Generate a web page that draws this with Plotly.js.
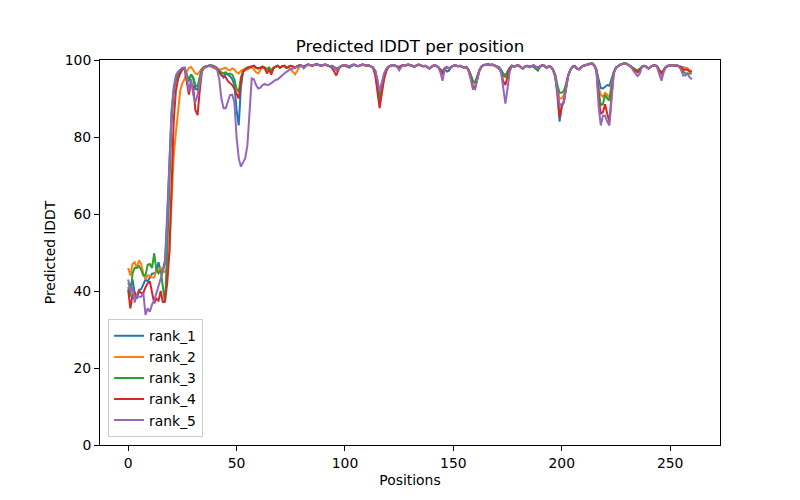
<!DOCTYPE html>
<html>
<head>
<meta charset="utf-8">
<script src="https://cdn.plot.ly/plotly-3.0.1.min.js"></script>
<style>html,body{margin:0;padding:0;background:#fff;}#chart{width:800px;height:500px;}</style>
</head>
<body>
<div id="chart"></div>
<script>
const seriesNames = ["rank_1", "rank_2", "rank_3", "rank_4", "rank_5"];
const seriesColors = ["#1f77b4", "#ff7f0e", "#2ca02c", "#d62728", "#9467bd"];
const xTickVals = [0, 50, 100, 150, 200, 250];
const yTickVals = [0, 20, 40, 60, 80, 100];

const rank1 = [
42, 41, 43, 39.5, 38, 40.3, 40.5, 42, 43, 42.5,
43.5, 44.5, 44.6, 45, 47.5, 45, 45.5, 48, 60, 75,
86, 92, 95, 96.2, 97.2, 97.8, 98, 96.2, 94.5, 96.3,
95.2, 92.5, 92.3, 95.3, 97.6, 98.2, 98.4, 98.5, 98.6, 98.5,
98.3, 97.8, 97, 96.2, 95.5, 96.5, 96.2, 95.8, 95, 93.5,
87, 83, 93, 97, 97.5, 98, 98, 98.3, 98.5, 98,
97.8, 98, 98.3, 98, 97.6, 98, 97, 98, 98.3, 98.5,
98, 98.4, 98.5, 98, 98.3, 98.5, 98.3, 98, 98.4, 98.6,
98.5, 98.2, 98.6, 98.8, 98.7, 98.5, 98.8, 98.9, 98.7, 98.5,
98.7, 98.8, 98.6, 98.4, 98.5, 98.2, 97.8, 98, 98.4, 98.6,
98.5, 98.2, 98, 98.4, 98.7, 98.6, 98.4, 98.6, 98.8, 98.7,
98.5, 98.6, 98.4, 98, 97.2, 94.5, 91, 94, 96, 97.5,
98.2, 98.5, 98.7, 98.6, 98.4, 98.2, 98.5, 98.7, 98.6, 98.8,
98.7, 98.5, 98.3, 98.6, 98.8, 98.6, 98.4, 98.5, 98.2, 97.8,
98.3, 98.6, 98.5, 98.2, 97.6, 97, 97.8, 97, 97.2, 98.2,
98.5, 98.6, 98.4, 98.5, 98.3, 98, 98.2, 97.5, 96, 94.5,
94, 95.8, 97.3, 98.3, 98.7, 98.8, 98.9, 98.7, 98.8, 98.6,
98.3, 98.2, 97.5, 96.5, 96, 97, 98, 98.5, 98.3, 98.5,
98.6, 98.2, 97.8, 98.3, 98.5, 98.2, 98.4, 98.6, 98.3, 98,
98.4, 98.6, 98.5, 98, 98.4, 98.2, 97.5, 96, 92, 84,
88, 89, 93, 96, 97.5, 98.3, 98.4, 97.8, 97.6, 98.2,
98.5, 98.7, 98.8, 99, 99.2, 98.6, 97.5, 95, 92.7, 92.6,
93, 93.5, 93.3, 95, 97, 98, 98.5, 98.8, 99, 99.2,
99, 98.6, 98.3, 97.8, 97.5, 97.2, 97.6, 98.3, 98.5, 98.3,
97.8, 98.3, 98.6, 98.7, 98.3, 97.4, 96.8, 97.3, 98.2, 98.5,
98.6, 98.7, 98.5, 98.6, 98.4, 98.2, 98, 97.8, 97.8, 97.3,
97
];

const rank2 = [
46, 44, 47, 47.5, 46, 48, 47, 44.5, 43, 44,
44, 43.5, 43.5, 45.5, 45.5, 46, 45, 45, 46, 50,
63, 75, 81, 87, 92, 94, 95, 97, 98, 98.2,
97.5, 96.5, 96.3, 97.2, 97.8, 98, 98.3, 98.5, 98.3, 98.1,
97.8, 98, 97.5, 97.6, 97.8, 98, 97.5, 97.3, 97.8, 97.5,
96.8, 96.5, 97.2, 97.5, 97.8, 97.5, 97.8, 98.2, 97.5, 96.8,
96.5, 97.5, 98.2, 98, 97.8, 98, 97.5, 98, 98.3, 98.4,
98, 98.3, 98.5, 98.2, 98, 97.5, 96.8, 96.3, 97.2, 98.2,
98.4, 98.2, 98.5, 98.7, 98.6, 98.4, 98.7, 98.8, 98.7, 98.5,
98.6, 98.7, 98.5, 98.3, 98.4, 98.2, 97.6, 98, 98.3, 98.5,
98.6, 98.4, 98.3, 98.6, 98.8, 98.6, 98.4, 98.5, 98.7, 98.6,
98.4, 98.5, 98.3, 97.8, 96.5, 92.5, 88.3, 91.5, 95, 97.2,
98.1, 98.4, 98.6, 98.5, 98.3, 98, 98.4, 98.6, 98.5, 98.7,
98.6, 98.4, 98.2, 98.5, 98.7, 98.5, 98.3, 98.4, 98.1, 97.7,
98.2, 98.5, 98.4, 98.1, 97.5, 97.2, 97.8, 98.1, 97.8, 98.2,
98.4, 98.5, 98.3, 98.4, 98.2, 97.9, 98.1, 97.3, 95.5, 93.5,
93, 95.3, 97.2, 98.2, 98.6, 98.7, 98.8, 98.6, 98.7, 98.5,
98.2, 97.8, 97, 95.8, 95.5, 96.3, 97.6, 98.4, 98.2, 98.4,
98.5, 98.1, 97.7, 98.2, 98.4, 98.1, 98.3, 98.5, 98.2, 97.8,
98.3, 98.5, 98.4, 97.9, 98.3, 98.1, 97.4, 95.5, 92.5, 90,
90, 91, 93.5, 96, 97.4, 98.2, 98.3, 97.7, 97.5, 98.1,
98.4, 98.6, 98.7, 98.9, 99.1, 98.5, 97.3, 93, 91, 90.5,
91.5, 91, 90, 94, 96.8, 97.8, 98.4, 98.7, 98.9, 99.1,
98.9, 98.5, 98.2, 97.6, 97.3, 96.8, 97.3, 98.2, 98.4, 98.2,
97.7, 98.2, 98.5, 98.6, 98.2, 96.5, 95.8, 97, 98.1, 98.4,
98.5, 98.6, 98.4, 98.5, 98.3, 98.1, 98, 98, 97.8, 97.2,
97
];

const rank3 = [
41, 38.5, 44.6, 46, 46, 46.5, 45.5, 44, 44, 46.8,
47, 46, 49.8, 45.5, 44.6, 45.5, 41, 37, 50, 68,
84, 92, 95, 96.3, 97.2, 97.8, 98, 96.2, 94.5, 96.2,
95.5, 93.5, 93, 95.5, 97.6, 98.2, 98.4, 98.5, 98.6, 98.5,
98.3, 97.8, 97.2, 96.8, 96.5, 96.8, 96.3, 96.5, 96.2, 95,
92.5, 91.7, 95.5, 97, 97.5, 98, 98.1, 98.3, 98.5, 98,
97.8, 98, 98.3, 98, 97.5, 98, 97, 98, 98.3, 98.5,
98, 98.4, 98.5, 98, 98.3, 98.5, 98.3, 98, 98.4, 98.6,
98.5, 98.2, 98.6, 98.8, 98.7, 98.5, 98.8, 98.9, 98.7, 98.5,
98.7, 98.8, 98.6, 98.4, 98.5, 98.2, 97.6, 98, 98.4, 98.6,
98.7, 98.5, 98.3, 98.6, 98.8, 98.6, 98.4, 98.6, 98.8, 98.7,
98.5, 98.6, 98.4, 98, 96.8, 93.5, 89.5, 92.5, 95.5, 97.3,
98.2, 98.5, 98.7, 98.6, 98.4, 98, 98.5, 98.7, 98.6, 98.8,
98.7, 98.5, 98.3, 98.6, 98.8, 98.6, 98.4, 98.5, 98.2, 97.8,
98.3, 98.6, 98.5, 98.2, 97.5, 97, 97.8, 98.2, 97.8, 98.2,
98.5, 98.6, 98.4, 98.5, 98.3, 98, 98.2, 97.5, 96.2, 94.5,
94.2, 95.8, 97.3, 98.3, 98.7, 98.8, 98.9, 98.7, 98.8, 98.6,
98.3, 97.9, 97.2, 96, 95.8, 96.8, 97.9, 98.5, 98.3, 98.5,
98.6, 98.2, 97.8, 98.3, 98.5, 98.2, 98.4, 98.2, 97.6, 97.2,
98.2, 98.6, 98.5, 98, 98.4, 98.2, 97.5, 96.2, 93.5, 91.5,
91.5, 92, 93.8, 96.2, 97.5, 98.3, 98.4, 97.8, 97.6, 98.2,
98.5, 98.7, 98.8, 99, 99.2, 98.6, 97.5, 92, 88.3, 88.5,
91, 90, 89.5, 93, 96.8, 98, 98.5, 98.8, 99, 99.2,
99, 98.6, 98.3, 97.7, 97.5, 97.4, 97.8, 98.3, 98.5, 98.3,
97.8, 98.3, 98.6, 98.7, 98.3, 97.3, 96.8, 97.3, 98.2, 98.5,
98.6, 98.7, 98.5, 98.6, 98.3, 98, 97, 96.5, 96.5, 96.5,
96.5
];

const rank4 = [
40.3, 35.5, 39, 39.5, 38.5, 40, 39.5, 39.5, 41, 42,
42.5, 39.5, 36.8, 38, 37.5, 40, 37, 37.5, 42, 50,
68, 84, 92, 95, 96.5, 97.5, 97.8, 94.5, 91, 94,
93, 87, 85.7, 92, 97, 98, 98.3, 98.5, 98.5, 98.4,
98.2, 97.6, 96.8, 96, 95.8, 95.5, 94.5, 94, 93.5, 92.5,
91, 90, 94.5, 97, 97.5, 98, 98.2, 98.3, 98.5, 98,
97.8, 98, 98.2, 97.8, 96.5, 97.5, 96.2, 97.8, 98.3, 98.5,
98, 98.4, 98.5, 98, 98.3, 98.5, 98.3, 98, 98.4, 98.6,
98.5, 98.2, 98.6, 98.8, 98.7, 98.5, 98.8, 98.9, 98.7, 98.5,
98.7, 98.8, 98.6, 98.4, 98, 97, 96, 97.5, 98.4, 98.6,
98.7, 98.5, 98.3, 98.6, 98.8, 98.6, 98.4, 98.6, 98.8, 98.7,
98.5, 98.6, 98.4, 98, 96, 92, 87.5, 91.5, 95, 97,
98.2, 98.5, 98.7, 98.6, 98.4, 98, 98.5, 98.7, 98.6, 98.8,
98.7, 98.5, 98.3, 98.6, 98.8, 98.6, 98.4, 98.5, 98.2, 97.8,
98.3, 98.6, 98.5, 98.2, 97.2, 96.5, 97.8, 98.2, 97.8, 98.2,
98.5, 98.6, 98.4, 98.5, 98.3, 98, 98.2, 97.3, 95.5, 93,
92.5, 95.3, 97.3, 98.3, 98.7, 98.8, 98.9, 98.7, 98.8, 98.6,
98.3, 97.9, 96.8, 94.5, 93.5, 95.8, 97.8, 98.5, 98.3, 98.5,
98.6, 98.2, 97.8, 98.3, 98.5, 98.2, 98.4, 98.6, 98.3, 97.8,
98.4, 98.6, 98.5, 98, 98.4, 98.2, 97.4, 95.8, 91, 85,
88, 89.5, 92.8, 96, 97.5, 98.3, 98.4, 97.8, 97.6, 98.2,
98.5, 98.7, 98.8, 99, 99.2, 98.6, 97.3, 90, 86, 86.5,
88.5, 86, 84, 91, 96.5, 98, 98.5, 98.8, 99, 99.2,
99, 98.6, 98.3, 97.6, 97.2, 96.8, 97.3, 98.3, 98.5, 98.3,
97.8, 98.3, 98.6, 98.7, 98.3, 97.3, 96.6, 97.3, 98.2, 98.5,
98.6, 98.7, 98.5, 98.6, 98.4, 98.2, 97.5, 97.5, 97.5, 97,
97
];

const rank5 = [
43, 40, 41, 37, 39, 38.5, 38.5, 39.5, 33.8, 35.5,
34.6, 36.5, 37.5, 39.5, 41, 43, 45, 47, 58, 74,
87, 93, 96, 97, 97.5, 98, 98, 95.5, 92, 95,
91, 89, 91, 94, 97, 98, 98.3, 98.4, 98.5, 98.3,
98, 97.5, 95, 90, 87.5, 87.5, 89, 90.9, 91, 89,
80, 74.5, 72.3, 73.5, 74.5, 77.9, 88.3, 95.2, 95, 93.5,
92.6, 92.8, 93.5, 93.8, 93.5, 93.6, 94, 94.5, 94.8, 95,
95.6, 96, 96.5, 97, 97.3, 97.6, 97.8, 98, 98.2, 98.4,
98.5, 97.8, 98.5, 98.8, 98.7, 98.5, 98.8, 98.9, 98.7, 98.5,
98.7, 98.8, 98.6, 98.4, 98.5, 98, 97.2, 97.8, 98.4, 98.6,
98.7, 98.5, 98.3, 98.6, 98.8, 98.6, 98.4, 98.6, 98.8, 98.7,
98.5, 98.6, 98.4, 98, 97.3, 95, 91.7, 94.5, 96.5, 97.7,
98.3, 98.5, 98.7, 98.6, 98.3, 97.3, 98.2, 98.7, 98.6, 98.8,
98.7, 98.5, 98.3, 98.6, 98.8, 98.6, 98.4, 98.5, 98.2, 97.8,
98.3, 98.6, 98.5, 98.2, 96.8, 94.6, 97.5, 98.2, 97.8, 98.2,
98.5, 98.6, 98.4, 98.5, 98.3, 98, 98.2, 97.3, 95, 92.5,
92.5, 95, 97.3, 98.3, 98.7, 98.8, 98.9, 98.7, 98.8, 98.6,
98.3, 98, 97, 93, 88.7, 92.6, 97, 98.4, 98.3, 98.5,
98.6, 98.2, 97.8, 98.3, 98.5, 98.2, 98.4, 98.6, 98.3, 97.8,
98.4, 98.6, 98.5, 98, 98.4, 98.2, 97.4, 95.5, 92, 88.3,
88.5, 89, 92.5, 96, 97.5, 98.3, 98.4, 97.8, 97.6, 98.2,
98.5, 98.7, 98.8, 99, 99.2, 98.6, 97.2, 88, 83, 85.5,
85.5, 84, 83, 90, 96.5, 98, 98.5, 98.8, 99, 99.2,
99, 98.6, 98.3, 97.2, 96.5, 95.8, 96.5, 98.2, 98.5, 98.3,
97.8, 98.3, 98.6, 98.7, 98.2, 96.3, 94.6, 96.8, 98.2, 98.5,
98.6, 98.7, 98.5, 98.6, 98.4, 97.5, 96, 96, 96.5, 95.5,
95
];

const allSeries = [rank1, rank2, rank3, rank4, rank5];

const traces = allSeries.map((vals, i) => ({
  type: "scatter",
  mode: "lines",
  name: seriesNames[i],
  x: vals.map((_, j) => j),
  y: vals,
  line: { color: seriesColors[i], width: 2 }
}));

const font = "DejaVu Sans, sans-serif";

const layout = {
  width: 800,
  height: 500,
  margin: { l: 100, r: 80, t: 60, b: 55 },
  paper_bgcolor: "#ffffff",
  plot_bgcolor: "#ffffff",
  font: { family: font, size: 13.9, color: "#000000" },
  showlegend: true,
  hovermode: false,
  title: {
    text: "Predicted lDDT per position",
    font: { family: font, size: 16.7, color: "#000000" },
    x: 0.5, xref: "paper", xanchor: "center",
    y: 0.908, yref: "container", yanchor: "middle"
  },
  xaxis: {
    range: [-13, 273],
    tickmode: "array",
    tickvals: xTickVals,
    ticktext: xTickVals.map(String),
    showgrid: false, zeroline: false,
    showline: true, mirror: true, linecolor: "#000000", linewidth: 1,
    ticks: "outside", ticklen: 5, tickwidth: 1, tickcolor: "#000000",
    tickfont: { family: font, size: 13.9, color: "#000000" },
    title: { text: "Positions", font: { family: font, size: 13.9, color: "#000000" }, standoff: 5 }
  },
  yaxis: {
    range: [0, 100],
    tickmode: "array",
    tickvals: yTickVals,
    ticktext: yTickVals.map(String),
    showgrid: false, zeroline: false,
    showline: true, mirror: true, linecolor: "#000000", linewidth: 1,
    ticks: "outside", ticklen: 5, tickwidth: 1, tickcolor: "#000000",
    tickfont: { family: font, size: 13.9, color: "#000000" },
    title: { text: "Predicted lDDT", font: { family: font, size: 13.9, color: "#000000" }, standoff: 5 }
  },
  legend: {
    x: 0.013, y: 0.02, xanchor: "left", yanchor: "bottom",
    bgcolor: "rgba(255,255,255,0.8)",
    bordercolor: "#cccccc", borderwidth: 1,
    font: { family: font, size: 13.9, color: "#000000" },
    itemwidth: 30,
    tracegroupgap: 0
  }
};

Plotly.newPlot("chart", traces, layout, { displayModeBar: false, staticPlot: true });
</script>
</body>
</html>
